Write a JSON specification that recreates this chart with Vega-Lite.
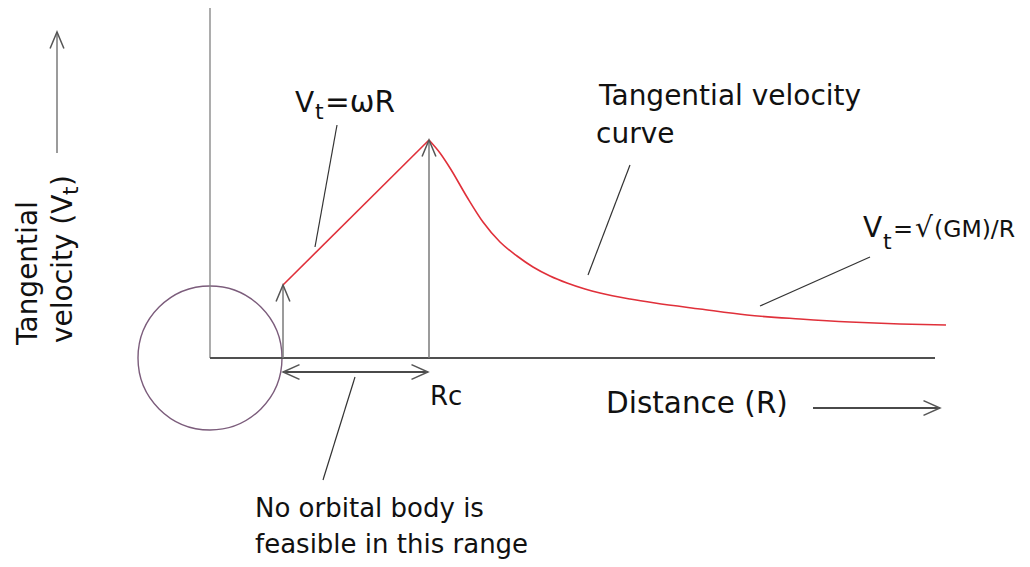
{
  "$schema": "https://vega.github.io/schema/vega-lite/v6.json",
  "width": 1030,
  "height": 567,
  "autosize": {"type": "fit", "contains": "padding"},
  "padding": 0,
  "background": "white",
  "config": {"view": {"stroke": null}},
  "encoding": {
    "x": {"field": "x", "type": "quantitative", "scale": {"domain": [-210, 820], "nice": false, "zero": false}, "axis": null},
    "y": {"field": "y", "type": "quantitative", "scale": {"domain": [-209, 358], "nice": false, "zero": false}, "axis": null}
  },
  "layer": [
    {
      "data": {"values": [{"x": 0, "y": 0}]},
      "mark": {"type": "point", "shape": "circle", "size": 20736, "filled": false, "stroke": "#7b5c7b", "strokeWidth": 1.4, "opacity": 1}
    },
    {
      "data": {"values": [{"x": 0, "y": 350, "x2": 0, "y2": 0}]},
      "mark": {"type": "rule", "color": "#808080", "strokeWidth": 1.3},
      "encoding": {"x2": {"field": "x2"}, "y2": {"field": "y2"}}
    },
    {
      "data": {"values": [{"x": 0, "y": 0, "x2": 725, "y2": 0}]},
      "mark": {"type": "rule", "color": "#505050", "strokeWidth": 2},
      "encoding": {"x2": {"field": "x2"}, "y2": {"field": "y2"}}
    },
    {
      "data": {"values": [
        {"x": 73, "y": 0, "x2": 73, "y2": 73},
        {"x": 219, "y": 0, "x2": 219, "y2": 218},
        {"x": -153, "y": 205, "x2": -153, "y2": 326}
      ]},
      "mark": {"type": "rule", "color": "#7a7a7a", "strokeWidth": 1.5},
      "encoding": {"x2": {"field": "x2"}, "y2": {"field": "y2"}}
    },
    {
      "data": {"values": [
        {"x": 73, "y": -14, "x2": 218, "y2": -14},
        {"x": 603, "y": -50, "x2": 730, "y2": -50}
      ]},
      "mark": {"type": "rule", "color": "#4a4a4a", "strokeWidth": 2},
      "encoding": {"x2": {"field": "x2"}, "y2": {"field": "y2"}}
    },
    {
      "data": {"values": [
        {"x": 127, "y": 233, "x2": 105, "y2": 111},
        {"x": 420, "y": 193, "x2": 378, "y2": 83},
        {"x": 660, "y": 101, "x2": 550, "y2": 52},
        {"x": 145, "y": -19, "x2": 113, "y2": -122}
      ]},
      "mark": {"type": "rule", "color": "#333333", "strokeWidth": 1.2},
      "encoding": {"x2": {"field": "x2"}, "y2": {"field": "y2"}}
    },
    {
      "data": {"values": [
        {"seg": "rise", "x": 73, "y": 73}, {"seg": "rise", "x": 219, "y": 218},
        {"seg": "decay", "x": 219, "y": 218}, {"seg": "decay", "x": 230, "y": 205}, {"seg": "decay", "x": 240, "y": 190},
        {"seg": "decay", "x": 257, "y": 161}, {"seg": "decay", "x": 273, "y": 136}, {"seg": "decay", "x": 290, "y": 116},
        {"seg": "decay", "x": 307, "y": 102}, {"seg": "decay", "x": 323, "y": 91}, {"seg": "decay", "x": 340, "y": 82},
        {"seg": "decay", "x": 357, "y": 75}, {"seg": "decay", "x": 375, "y": 69}, {"seg": "decay", "x": 390, "y": 65},
        {"seg": "decay", "x": 420, "y": 59}, {"seg": "decay", "x": 445, "y": 55}, {"seg": "decay", "x": 490, "y": 49},
        {"seg": "decay", "x": 537, "y": 43}, {"seg": "decay", "x": 590, "y": 39}, {"seg": "decay", "x": 640, "y": 36},
        {"seg": "decay", "x": 690, "y": 34}, {"seg": "decay", "x": 736, "y": 33}
      ]},
      "mark": {"type": "line", "color": "#e0303a", "strokeWidth": 1.6, "interpolate": "monotone"},
      "encoding": {"detail": {"field": "seg", "type": "nominal"}}
    },
    {
      "data": {"values": [
        {"x": 73, "y": 73, "dir": "up"},
        {"x": 219, "y": 218, "dir": "up"},
        {"x": -153, "y": 326, "dir": "up"},
        {"x": 73, "y": -14, "dir": "left"},
        {"x": 218, "y": -14, "dir": "right"},
        {"x": 730, "y": -50, "dir": "right"}
      ]},
      "mark": {"type": "point", "filled": false, "size": 1089, "strokeWidth": 1.5, "color": "#555555", "opacity": 1},
      "encoding": {
        "shape": {"field": "dir", "type": "nominal", "legend": null,
          "scale": {"domain": ["up", "left", "right"], "range": ["M-0.42,1L0,0L0.42,1", "M1,-0.45L0,0L1,0.45", "M-1,-0.45L0,0L-1,0.45"]}}
      }
    },
    {
      "data": {"values": [
        {"x": 389, "y": 253, "text": "Tangential velocity"},
        {"x": 386, "y": 215, "text": "curve"},
        {"x": 85, "y": 246, "text": "V"},
        {"x": 653, "y": 121, "text": "V"},
        {"x": 705, "y": 121, "text": "√"}
      ]},
      "mark": {"type": "text", "align": "left", "baseline": "alphabetic", "font": "DejaVu Sans", "fontSize": 28, "color": "#111111"},
      "encoding": {"text": {"field": "text"}}
    },
    {
      "data": {"values": [
        {"x": 396, "y": -55, "text": "Distance (R)"},
        {"x": 115, "y": 246, "text": "=ωR"}
      ]},
      "mark": {"type": "text", "align": "left", "baseline": "alphabetic", "font": "DejaVu Sans", "fontSize": 29.5, "color": "#111111"},
      "encoding": {"text": {"field": "text"}}
    },
    {
      "data": {"values": [
        {"x": 45, "y": -159, "text": "No orbital body is"},
        {"x": 45, "y": -195, "text": "feasible in this range"},
        {"x": 220, "y": -47, "text": "Rc"}
      ]},
      "mark": {"type": "text", "align": "left", "baseline": "alphabetic", "font": "DejaVu Sans", "fontSize": 26, "color": "#111111"},
      "encoding": {"text": {"field": "text"}}
    },
    {
      "data": {"values": [
        {"x": 683, "y": 121, "text": "="}
      ]},
      "mark": {"type": "text", "align": "left", "baseline": "alphabetic", "font": "DejaVu Sans", "fontSize": 24, "color": "#111111"},
      "encoding": {"text": {"field": "text"}}
    },
    {
      "data": {"values": [
        {"x": 105, "y": 239, "text": "t"},
        {"x": 673, "y": 109, "text": "t"}
      ]},
      "mark": {"type": "text", "align": "left", "baseline": "alphabetic", "font": "DejaVu Sans", "fontSize": 22, "color": "#111111"},
      "encoding": {"text": {"field": "text"}}
    },
    {
      "data": {"values": [
        {"x": 724, "y": 121, "text": "(GM)/R"}
      ]},
      "mark": {"type": "text", "align": "left", "baseline": "alphabetic", "font": "DejaVu Sans", "fontSize": 23.5, "color": "#111111"},
      "encoding": {"text": {"field": "text"}}
    },
    {
      "data": {"values": [
        {"x": -173, "y": 13, "text": "Tangential"},
        {"x": -138, "y": 15, "text": "velocity (V"},
        {"x": -138, "y": 172, "text": ")"}
      ]},
      "mark": {"type": "text", "align": "left", "baseline": "alphabetic", "angle": 270, "font": "DejaVu Sans", "fontSize": 28, "color": "#111111"},
      "encoding": {"text": {"field": "text"}}
    },
    {
      "data": {"values": [
        {"x": -132, "y": 163, "text": "t"}
      ]},
      "mark": {"type": "text", "align": "left", "baseline": "alphabetic", "angle": 270, "font": "DejaVu Sans", "fontSize": 22, "color": "#111111"},
      "encoding": {"text": {"field": "text"}}
    }
  ]
}
